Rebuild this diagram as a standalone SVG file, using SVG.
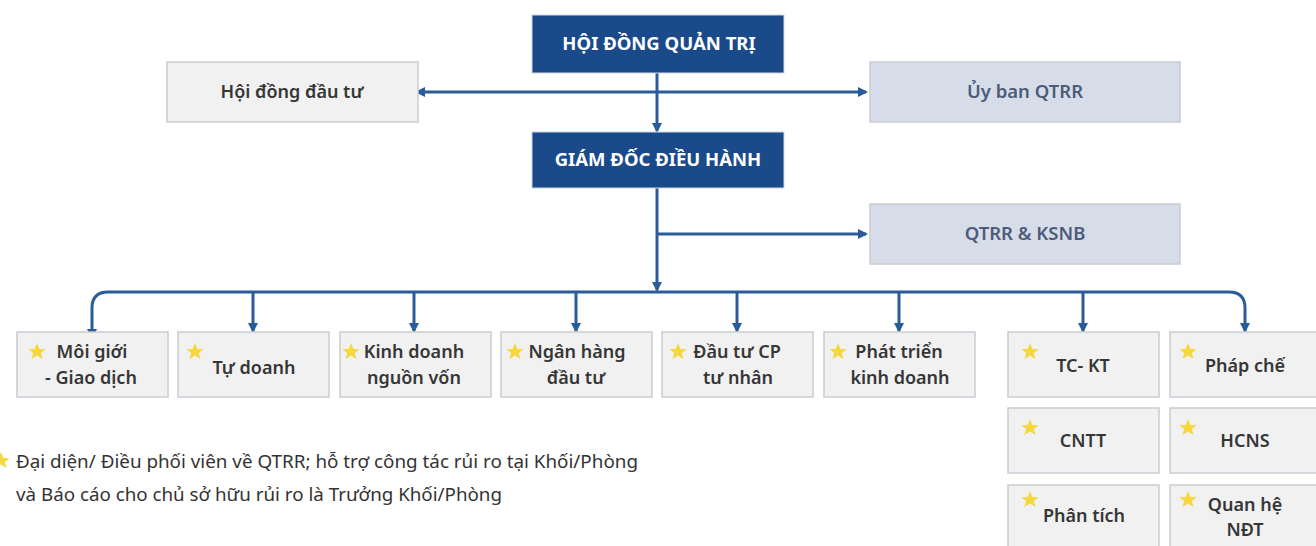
<svg xmlns="http://www.w3.org/2000/svg" width="1316" height="546" viewBox="0 0 1316 546">
<style>
.dark{fill:#1a4a8a;stroke:#d0d6e0;stroke-width:1}
.gray{fill:#f1f1f1;stroke:#c9ccd2;stroke-width:1.5}
.blue{fill:#d7dde8;stroke:#c9ccd2;stroke-width:1.5}
.tw{font-family:"Noto Sans","Open Sans",sans-serif;font-weight:700;font-size:18.5px;fill:#ffffff;text-anchor:middle}
.tg{font-family:"Noto Sans","Open Sans",sans-serif;font-weight:600;font-size:18px;fill:#363636;text-anchor:middle}
.tb{font-family:"Noto Sans","Open Sans",sans-serif;font-weight:600;font-size:18.5px;fill:#4d5c7a;text-anchor:middle}
.tl{font-family:"Noto Sans","Open Sans",sans-serif;font-size:18.5px;fill:#333333}
.ln{fill:none;stroke:#2a5c9a;stroke-width:3}
.star{fill:#f6d73c}
</style>
<defs>
<marker id="ah" markerWidth="10" markerHeight="10" refX="8" refY="5" orient="auto" markerUnits="userSpaceOnUse">
<path d="M0,0 L10,5 L0,10 Z" fill="#2a5c9a"/>
</marker>
<marker id="ahs" markerWidth="10" markerHeight="10" refX="2" refY="5" orient="auto-start-reverse" markerUnits="userSpaceOnUse">
<path d="M0,0 L10,5 L0,10 Z" fill="#2a5c9a"/>
</marker>
<path id="st" d="M0,-8.8 L2.4,-2.9 L8.6,-2.7 L3.8,1.1 L5.5,7.1 L0,3.6 L-5.5,7.1 L-3.8,1.1 L-8.6,-2.7 L-2.4,-2.9 Z"/>
</defs>

<g id="connectors">
<line class="ln" x1="423" y1="92" x2="866" y2="92" marker-start="url(#ahs)" marker-end="url(#ah)"/>
<line class="ln" x1="657" y1="73" x2="657" y2="131" marker-end="url(#ah)"/>
<line class="ln" x1="657" y1="188" x2="657" y2="290" marker-end="url(#ah)"/>
<line class="ln" x1="657" y1="234" x2="866" y2="234" marker-end="url(#ah)"/>
<path class="ln" d="M92,331 V308 Q92,292 108,292 H1229 Q1245,292 1245,308 V331" marker-start="url(#ahs)" marker-end="url(#ah)"/>
<line class="ln" x1="253" y1="292" x2="253" y2="331" marker-end="url(#ah)"/>
<line class="ln" x1="414" y1="292" x2="414" y2="331" marker-end="url(#ah)"/>
<line class="ln" x1="576" y1="292" x2="576" y2="331" marker-end="url(#ah)"/>
<line class="ln" x1="737" y1="292" x2="737" y2="331" marker-end="url(#ah)"/>
<line class="ln" x1="899" y1="292" x2="899" y2="331" marker-end="url(#ah)"/>
<line class="ln" x1="1083" y1="292" x2="1083" y2="331" marker-end="url(#ah)"/>
</g>

<g id="hdqt">
<rect class="dark" x="532" y="15" width="252" height="58"/>
<text class="tw" x="659" y="50">HỘI ĐỒNG QUẢN TRỊ</text>
</g>
<g id="hddt">
<rect class="gray" x="167" y="62" width="251" height="60"/>
<text class="tg" x="292" y="98">Hội đồng đầu tư</text>
</g>
<g id="ubqtrr">
<rect class="blue" x="870" y="62" width="310" height="60"/>
<text class="tb" x="1025" y="98">Ủy ban QTRR</text>
</g>
<g id="gddh">
<rect class="dark" x="532" y="132" width="252" height="56"/>
<text class="tw" x="658" y="166">GIÁM ĐỐC ĐIỀU HÀNH</text>
</g>
<g id="qtrr">
<rect class="blue" x="870" y="204" width="310" height="60"/>
<text class="tb" x="1025" y="240">QTRR &amp; KSNB</text>
</g>

<g id="moigioi">
<rect class="gray" x="17" y="332" width="151" height="65"/>
<use href="#st" class="star" x="37" y="352"/>
<text class="tg" x="92" y="358">Môi giới</text>
<text class="tg" x="91" y="384">- Giao dịch</text>
</g>
<g id="tudoanh">
<rect class="gray" x="178" y="332" width="151" height="65"/>
<use href="#st" class="star" x="195" y="352"/>
<text class="tg" x="254" y="374">Tự doanh</text>
</g>
<g id="kdnv">
<rect class="gray" x="340" y="332" width="151" height="65"/>
<use href="#st" class="star" x="351" y="352"/>
<text class="tg" x="414" y="358">Kinh doanh</text>
<text class="tg" x="414" y="384">nguồn vốn</text>
</g>
<g id="nhdt">
<rect class="gray" x="501" y="332" width="151" height="65"/>
<use href="#st" class="star" x="515" y="352"/>
<text class="tg" x="577" y="358">Ngân hàng</text>
<text class="tg" x="576" y="384">đầu tư</text>
</g>
<g id="dtcp">
<rect class="gray" x="662" y="332" width="151" height="65"/>
<use href="#st" class="star" x="678" y="352"/>
<text class="tg" x="737" y="358">Đầu tư CP</text>
<text class="tg" x="738" y="384">tư nhân</text>
</g>
<g id="ptkd">
<rect class="gray" x="824" y="332" width="151" height="65"/>
<use href="#st" class="star" x="838" y="352"/>
<text class="tg" x="899" y="358">Phát triển</text>
<text class="tg" x="900" y="384">kinh doanh</text>
</g>
<g id="tckt">
<rect class="gray" x="1008" y="332" width="151" height="65"/>
<use href="#st" class="star" x="1030" y="352"/>
<text class="tg" x="1083" y="372">TC- KT</text>
</g>
<g id="phapche">
<rect class="gray" x="1170" y="332" width="151" height="65"/>
<use href="#st" class="star" x="1188" y="352"/>
<text class="tg" x="1245" y="372">Pháp chế</text>
</g>
<g id="cntt">
<rect class="gray" x="1008" y="408" width="151" height="65"/>
<use href="#st" class="star" x="1030" y="428"/>
<text class="tg" x="1083" y="447">CNTT</text>
</g>
<g id="hcns">
<rect class="gray" x="1170" y="408" width="151" height="65"/>
<use href="#st" class="star" x="1188" y="428"/>
<text class="tg" x="1245" y="447">HCNS</text>
</g>
<g id="phantich">
<rect class="gray" x="1008" y="485" width="151" height="65"/>
<use href="#st" class="star" x="1030" y="500"/>
<text class="tg" x="1084" y="522">Phân tích</text>
</g>
<g id="qhndt">
<rect class="gray" x="1170" y="485" width="151" height="65"/>
<use href="#st" class="star" x="1188" y="500"/>
<text class="tg" x="1245" y="511">Quan hệ</text>
<text class="tg" x="1245" y="536">NĐT</text>
</g>

<g id="legend">
<use href="#st" class="star" x="1" y="461"/>
<text class="tl" x="16" y="468" textLength="622" lengthAdjust="spacingAndGlyphs">Đại diện/ Điều phối viên về QTRR; hỗ trợ công tác rủi ro tại Khối/Phòng</text>
<text class="tl" x="16" y="501" textLength="486" lengthAdjust="spacingAndGlyphs">và Báo cáo cho chủ sở hữu rủi ro là Trưởng Khối/Phòng</text>
</g>
</svg>
